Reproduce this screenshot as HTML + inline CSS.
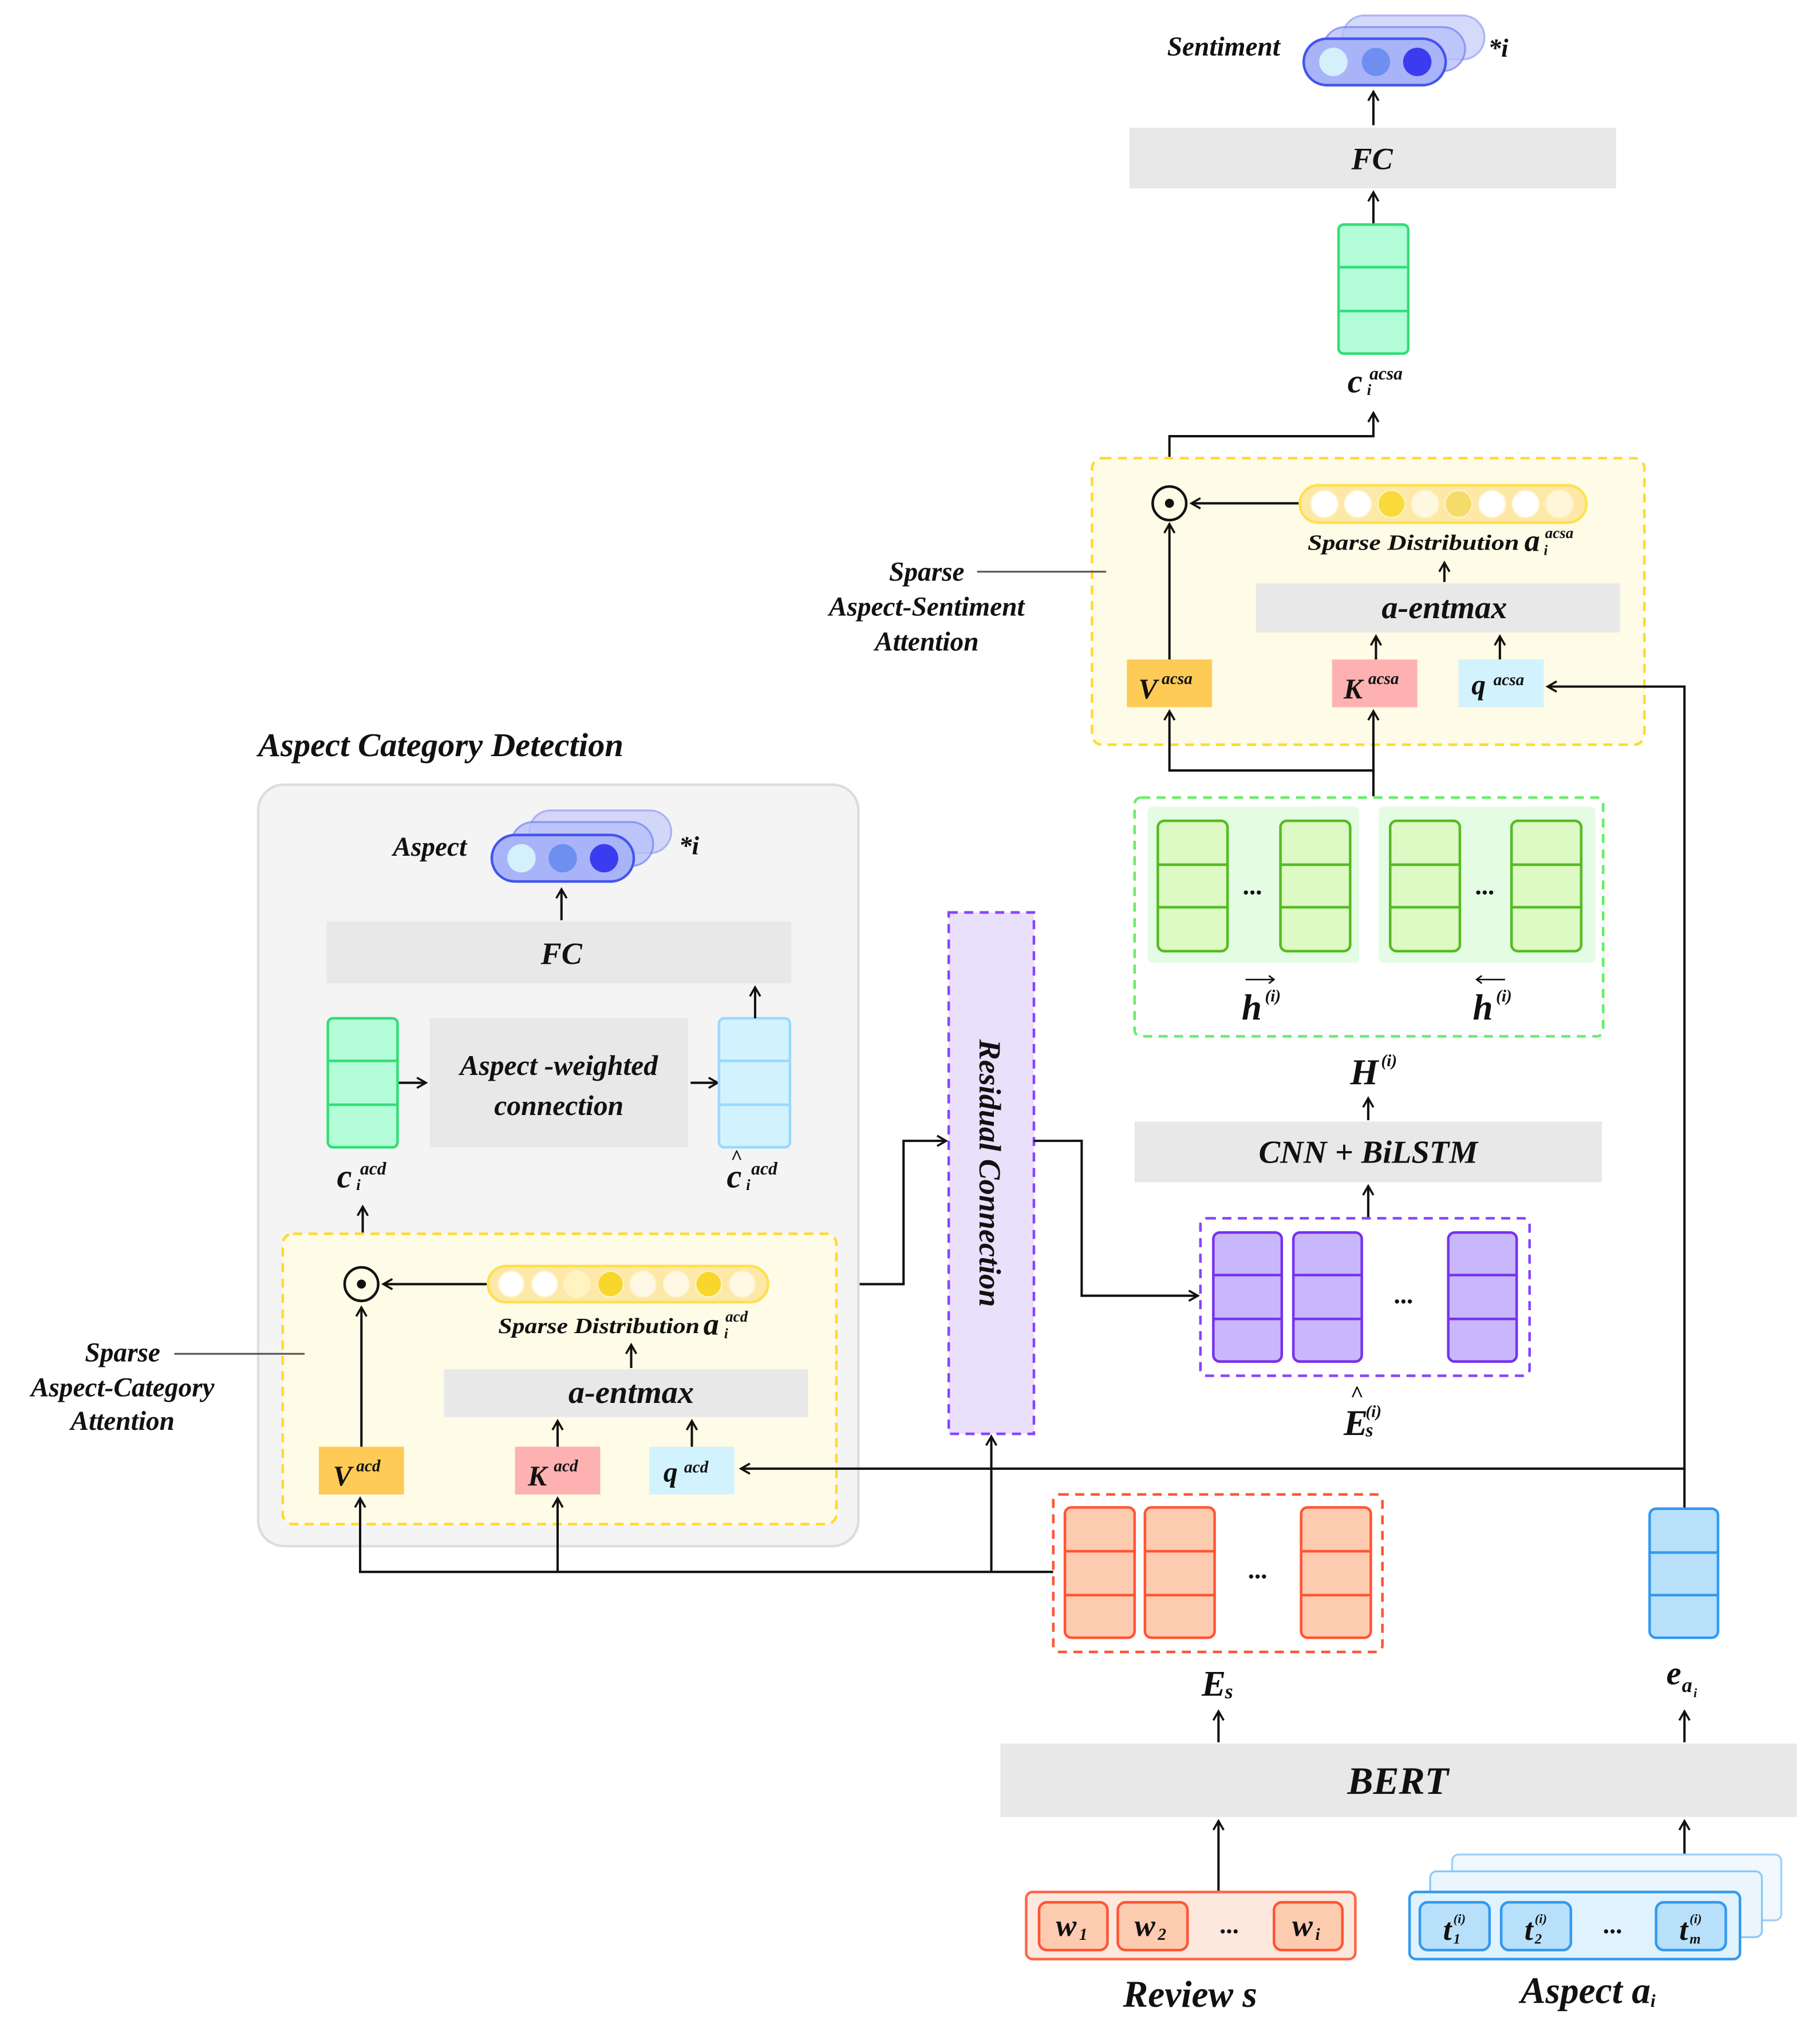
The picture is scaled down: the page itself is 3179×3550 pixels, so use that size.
<!DOCTYPE html>
<html><head><meta charset="utf-8"><style>
html,body{margin:0;padding:0;background:#fff}
svg{display:block}
text{font-family:"Liberation Serif",serif;font-style:italic;font-weight:bold;fill:#111}
</style></head><body>
<svg width="3179" height="3550" viewBox="0 0 1410 1574.5" preserveAspectRatio="none" xmlns="http://www.w3.org/2000/svg">
<defs>
<marker id="ar" markerWidth="10" markerHeight="10" refX="8" refY="5" orient="auto" markerUnits="userSpaceOnUse"><path d="M1,1 L8,5 L1,9" fill="none" stroke="#111" stroke-width="1.6"/></marker>
</defs>

<!-- ===== ACSA (top right) ===== -->
<text x="948" y="43" font-size="21" text-anchor="middle">Sentiment</text>
<rect x="1040" y="12" width="110" height="34" rx="17" fill="#c4cbfa" stroke="#8b97f3" stroke-width="1.5" opacity="0.7"/>
<rect x="1025" y="21" width="110" height="34" rx="17" fill="#b8c0fa" stroke="#7a88f2" stroke-width="1.5" opacity="0.8"/>
<rect x="1010" y="30" width="110" height="36" rx="18" fill="#a9b4f8" stroke="#4455ee" stroke-width="2"/>
<circle cx="1033" cy="48" r="11" fill="#d4f0fa"/><circle cx="1066" cy="48" r="11" fill="#6f8ff0"/><circle cx="1098" cy="48" r="11" fill="#3b3bf0"/>
<text x="1153" y="44" font-size="20">*i</text>
<line x1="1064" y1="97" x2="1064" y2="71" stroke="#111" stroke-width="1.8" marker-end="url(#ar)"/>
<rect x="875" y="99" width="377" height="47" fill="#e8e8e8"/>
<text x="1063" y="131" font-size="24" text-anchor="middle">FC</text>
<line x1="1064" y1="174" x2="1064" y2="149" stroke="#111" stroke-width="1.8" marker-end="url(#ar)"/>
<rect x="1037" y="174" width="54" height="100" rx="4" fill="#b3fdd8" stroke="#33dd77" stroke-width="2"/>
<line x1="1037" y1="207" x2="1091" y2="207" stroke="#33dd77" stroke-width="2"/><line x1="1037" y1="241" x2="1091" y2="241" stroke="#33dd77" stroke-width="2"/>
<text x="1044" y="304" font-size="26">c</text><text x="1061" y="294" font-size="14">acsa</text><text x="1059" y="306" font-size="12">i</text>
<polyline points="906,378 906,338 1064,338 1064,320" fill="none" stroke="#111" stroke-width="1.8" marker-end="url(#ar)"/>

<rect x="846" y="355" width="428" height="222" rx="8" fill="#fefbe6" stroke="#ffd933" stroke-width="2" stroke-dasharray="7,5"/>
<line x1="757" y1="443" x2="857" y2="443" stroke="#555" stroke-width="1.4"/>
<text x="718" y="450" font-size="21" text-anchor="middle">Sparse</text>
<text x="718" y="477" font-size="21" text-anchor="middle">Aspect-Sentiment</text>
<text x="718" y="504" font-size="21" text-anchor="middle">Attention</text>
<circle cx="906" cy="390" r="13" fill="none" stroke="#111" stroke-width="2"/><circle cx="906" cy="390" r="3.5" fill="#111"/>
<line x1="1007" y1="390" x2="923" y2="390" stroke="#111" stroke-width="1.8" marker-end="url(#ar)"/>
<rect x="1007" y="376" width="222" height="29" rx="14.5" fill="#fde8a8" stroke="#ffe04d" stroke-width="2"/>
<g stroke="#fff3c8" stroke-width="1">
<circle cx="1026" cy="390.5" r="10.5" fill="#fff"/><circle cx="1052" cy="390.5" r="10.5" fill="#fff"/><circle cx="1078" cy="390.5" r="10.5" fill="#fad93a"/><circle cx="1104" cy="390.5" r="10.5" fill="#fff8e0"/><circle cx="1130" cy="390.5" r="10.5" fill="#f5dc6a"/><circle cx="1156" cy="390.5" r="10.5" fill="#fff"/><circle cx="1182" cy="390.5" r="10.5" fill="#fff"/><circle cx="1208" cy="390.5" r="10.5" fill="#fff5d8"/>
</g>
<text x="1013" y="426" font-size="17" textLength="164" lengthAdjust="spacingAndGlyphs">Sparse Distribution</text><text x="1181" y="427" font-size="24">a</text><text x="1197" y="417" font-size="12">acsa</text><text x="1196" y="430" font-size="11">i</text>
<line x1="1119" y1="451" x2="1119" y2="436" stroke="#111" stroke-width="1.8" marker-end="url(#ar)"/>
<rect x="973" y="452" width="282" height="38" fill="#e8e8e8"/>
<text x="1119" y="479" font-size="25" text-anchor="middle">a-entmax</text>
<line x1="1066" y1="511" x2="1066" y2="493" stroke="#111" stroke-width="1.8" marker-end="url(#ar)"/>
<line x1="1162" y1="511" x2="1162" y2="493" stroke="#111" stroke-width="1.8" marker-end="url(#ar)"/>
<rect x="873" y="511" width="66" height="37" fill="#fecb56"/><text x="882" y="541" font-size="22">V</text><text x="900" y="530" font-size="13">acsa</text>
<rect x="1032" y="511" width="66" height="37" fill="#feb1b1"/><text x="1041" y="541" font-size="22">K</text><text x="1060" y="530" font-size="13">acsa</text>
<rect x="1130" y="511" width="66" height="37" fill="#d2f2fe"/><text x="1140" y="538" font-size="22">q</text><text x="1157" y="531" font-size="13">acsa</text>
<line x1="906" y1="511" x2="906" y2="406" stroke="#111" stroke-width="1.8" marker-end="url(#ar)"/>
<polyline points="1064,617 1064,597 906,597 906,551" fill="none" stroke="#111" stroke-width="1.8" marker-end="url(#ar)"/>
<line x1="1064" y1="600" x2="1064" y2="551" stroke="#111" stroke-width="1.8" marker-end="url(#ar)"/>
<polyline points="1305,1169 1305,532 1199,532" fill="none" stroke="#111" stroke-width="1.8" marker-end="url(#ar)"/>

<!-- BiLSTM -->
<rect x="879" y="618" width="363" height="185" rx="5" fill="#fff" stroke="#66ee66" stroke-width="2" stroke-dasharray="7,5"/>
<rect x="889" y="625" width="164" height="121" rx="4" fill="#e4fce4"/>
<rect x="1068" y="625" width="168" height="121" rx="4" fill="#e4fce4"/>
<g fill="#ddf9c4" stroke="#55bb22" stroke-width="2">
<rect x="897" y="636" width="54" height="101" rx="5"/><rect x="992" y="636" width="54" height="101" rx="5"/><rect x="1077" y="636" width="54" height="101" rx="5"/><rect x="1171" y="636" width="54" height="101" rx="5"/>
<path d="M897,670h54M897,703h54M992,670h54M992,703h54M1077,670h54M1077,703h54M1171,670h54M1171,703h54" fill="none"/>
</g>
<text x="971" y="693" font-size="20" text-anchor="middle">...</text><text x="1151" y="693" font-size="20" text-anchor="middle">...</text>
<text x="962" y="790" font-size="28">h</text><text x="980" y="776" font-size="13">(i)</text>
<path d="M965,759h22M983,756l4,3l-4,3" fill="none" stroke="#111" stroke-width="1.2"/>
<text x="1141" y="790" font-size="28">h</text><text x="1159" y="776" font-size="13">(i)</text>
<path d="M1144,759h22M1148,756l-4,3l4,3" fill="none" stroke="#111" stroke-width="1.2"/>
<text x="1046" y="840" font-size="28">H</text><text x="1070" y="826" font-size="13">(i)</text>
<line x1="1060" y1="868" x2="1060" y2="851" stroke="#111" stroke-width="1.8" marker-end="url(#ar)"/>
<rect x="879" y="869" width="362" height="47" fill="#e8e8e8"/>
<text x="1060" y="901" font-size="25" text-anchor="middle">CNN + BiLSTM</text>
<line x1="1060" y1="943" x2="1060" y2="919" stroke="#111" stroke-width="1.8" marker-end="url(#ar)"/>
<rect x="930" y="944" width="255" height="122" rx="5" fill="#fff" stroke="#8844ff" stroke-width="2" stroke-dasharray="7,5"/>
<g fill="#c8b8fb" stroke="#7733ee" stroke-width="2">
<rect x="940" y="955" width="53" height="100" rx="5"/><rect x="1002" y="955" width="53" height="100" rx="5"/><rect x="1122" y="955" width="53" height="100" rx="5"/>
<path d="M940,988h53M940,1022h53M1002,988h53M1002,1022h53M1122,988h53M1122,1022h53" fill="none"/>
</g>
<text x="1088" y="1010" font-size="20" text-anchor="middle">...</text>
<text x="1041" y="1112" font-size="28">E</text><text x="1046" y="1086" font-size="18">^</text><text x="1058" y="1098" font-size="13">(i)</text><text x="1058" y="1113" font-size="15">s</text>

<!-- Residual -->
<rect x="735" y="707" width="66" height="404" fill="#e9e0fc" stroke="#8844ff" stroke-width="2" stroke-dasharray="7,5"/>
<text transform="translate(759,909) rotate(90)" font-size="24" text-anchor="middle">Residual Connection</text>
<polyline points="801,884 838,884 838,1004 928,1004" fill="none" stroke="#111" stroke-width="1.8" marker-end="url(#ar)"/>
<polyline points="595,995 700,995 700,884 733,884" fill="none" stroke="#111" stroke-width="1.8" marker-end="url(#ar)"/>

<!-- ===== ACD ===== -->
<text x="200" y="586" font-size="26">Aspect Category Detection</text>
<rect x="200" y="608" width="465" height="590" rx="20" fill="#f4f4f4" stroke="#dddddd" stroke-width="2"/>
<text x="333" y="663" font-size="21" text-anchor="middle">Aspect</text>
<rect x="410" y="628" width="110" height="33" rx="16.5" fill="#c4cbfa" stroke="#8b97f3" stroke-width="1.5" opacity="0.7"/>
<rect x="396" y="637" width="110" height="34" rx="17" fill="#b8c0fa" stroke="#7a88f2" stroke-width="1.5" opacity="0.8"/>
<rect x="381" y="647" width="110" height="36" rx="18" fill="#a9b4f8" stroke="#4455ee" stroke-width="2"/>
<circle cx="404" cy="665" r="11" fill="#d4f0fa"/><circle cx="436" cy="665" r="11" fill="#6f8ff0"/><circle cx="468" cy="665" r="11" fill="#3b3bf0"/>
<text x="526" y="662" font-size="20">*i</text>
<line x1="435" y1="713" x2="435" y2="689" stroke="#111" stroke-width="1.8" marker-end="url(#ar)"/>
<rect x="253" y="714" width="360" height="48" fill="#e8e8e8"/>
<text x="435" y="747" font-size="24" text-anchor="middle">FC</text>
<rect x="254" y="789" width="54" height="100" rx="4" fill="#b3fdd8" stroke="#33dd77" stroke-width="2"/>
<line x1="254" y1="822" x2="308" y2="822" stroke="#33dd77" stroke-width="2"/><line x1="254" y1="856" x2="308" y2="856" stroke="#33dd77" stroke-width="2"/>
<line x1="309" y1="839" x2="330" y2="839" stroke="#111" stroke-width="1.8" marker-end="url(#ar)"/>
<rect x="333" y="789" width="200" height="100" fill="#e8e8e8"/>
<text x="433" y="833" font-size="22" text-anchor="middle">Aspect -weighted</text>
<text x="433" y="864" font-size="22" text-anchor="middle">connection</text>
<line x1="535" y1="839" x2="556" y2="839" stroke="#111" stroke-width="1.8" marker-end="url(#ar)"/>
<rect x="557" y="789" width="55" height="100" rx="4" fill="#d2f2fe" stroke="#99d9fd" stroke-width="2"/>
<line x1="557" y1="822" x2="612" y2="822" stroke="#99d9fd" stroke-width="2"/><line x1="557" y1="856" x2="612" y2="856" stroke="#99d9fd" stroke-width="2"/>
<line x1="585" y1="789" x2="585" y2="765" stroke="#111" stroke-width="1.8" marker-end="url(#ar)"/>
<text x="261" y="920" font-size="26">c</text><text x="279" y="910" font-size="14">acd</text><text x="276" y="922" font-size="12">i</text>
<text x="563" y="920" font-size="26">c</text><text x="566" y="902" font-size="16">^</text><text x="582" y="910" font-size="14">acd</text><text x="578" y="922" font-size="12">i</text>
<line x1="281" y1="980" x2="281" y2="935" stroke="#111" stroke-width="1.8" marker-end="url(#ar)"/>

<rect x="219" y="956" width="429" height="225" rx="8" fill="#fefbe6" stroke="#ffd933" stroke-width="2" stroke-dasharray="7,5"/>
<line x1="135" y1="1049" x2="236" y2="1049" stroke="#555" stroke-width="1.4"/>
<text x="95" y="1055" font-size="21" text-anchor="middle">Sparse</text>
<text x="95" y="1082" font-size="21" text-anchor="middle">Aspect-Category</text>
<text x="95" y="1108" font-size="21" text-anchor="middle">Attention</text>
<circle cx="280" cy="995" r="13" fill="none" stroke="#111" stroke-width="2"/><circle cx="280" cy="995" r="3.5" fill="#111"/>
<line x1="378" y1="995" x2="297" y2="995" stroke="#111" stroke-width="1.8" marker-end="url(#ar)"/>
<rect x="378" y="981" width="217" height="28" rx="14" fill="#fde8a8" stroke="#ffe04d" stroke-width="2"/>
<g stroke="#fff3c8" stroke-width="1">
<circle cx="396" cy="995" r="10" fill="#fff"/><circle cx="422" cy="995" r="10" fill="#fff"/><circle cx="447" cy="995" r="10" fill="#fff3c0"/><circle cx="473" cy="995" r="10" fill="#f9d62b"/><circle cx="498" cy="995" r="10" fill="#fff8e5"/><circle cx="524" cy="995" r="10" fill="#fff8e5"/><circle cx="549" cy="995" r="10" fill="#f9d62b"/><circle cx="575" cy="995" r="10" fill="#fff8e5"/>
</g>
<text x="386" y="1033" font-size="17" textLength="156" lengthAdjust="spacingAndGlyphs">Sparse Distribution</text><text x="545" y="1034" font-size="24">a</text><text x="562" y="1024" font-size="12">acd</text><text x="561" y="1037" font-size="11">i</text>
<line x1="489" y1="1060" x2="489" y2="1042" stroke="#111" stroke-width="1.8" marker-end="url(#ar)"/>
<rect x="344" y="1061" width="282" height="37" fill="#e8e8e8"/>
<text x="489" y="1087" font-size="25" text-anchor="middle">a-entmax</text>
<line x1="432" y1="1121" x2="432" y2="1101" stroke="#111" stroke-width="1.8" marker-end="url(#ar)"/>
<line x1="536" y1="1121" x2="536" y2="1101" stroke="#111" stroke-width="1.8" marker-end="url(#ar)"/>
<rect x="247" y="1121" width="66" height="37" fill="#fecb56"/><text x="258" y="1151" font-size="22">V</text><text x="276" y="1140" font-size="13">acd</text>
<rect x="399" y="1121" width="66" height="37" fill="#feb1b1"/><text x="409" y="1151" font-size="22">K</text><text x="429" y="1140" font-size="13">acd</text>
<rect x="503" y="1121" width="66" height="37" fill="#d2f2fe"/><text x="514" y="1148" font-size="22">q</text><text x="530" y="1141" font-size="13">acd</text>
<line x1="280" y1="1121" x2="280" y2="1013" stroke="#111" stroke-width="1.8" marker-end="url(#ar)"/>

<!-- connectors bottom -->
<polyline points="816,1218 279,1218 279,1161" fill="none" stroke="#111" stroke-width="1.8" marker-end="url(#ar)"/>
<line x1="432" y1="1218" x2="432" y2="1161" stroke="#111" stroke-width="1.8" marker-end="url(#ar)"/>
<line x1="768" y1="1218" x2="768" y2="1113" stroke="#111" stroke-width="1.8" marker-end="url(#ar)"/>
<polyline points="1305,1138 574,1138" fill="none" stroke="#111" stroke-width="1.8" marker-end="url(#ar)"/>

<!-- Es -->
<rect x="816" y="1158" width="255" height="122" rx="5" fill="#fff" stroke="#ff5533" stroke-width="2" stroke-dasharray="7,5"/>
<g fill="#fdcbb0" stroke="#ff5533" stroke-width="2">
<rect x="825" y="1168" width="54" height="101" rx="5"/><rect x="887" y="1168" width="54" height="101" rx="5"/><rect x="1008" y="1168" width="54" height="101" rx="5"/>
<path d="M825,1202h54M825,1236h54M887,1202h54M887,1236h54M1008,1202h54M1008,1236h54" fill="none"/>
</g>
<text x="975" y="1223" font-size="20" text-anchor="middle">...</text>
<rect x="1278" y="1169" width="53" height="100" rx="5" fill="#b8e0fb" stroke="#3399ee" stroke-width="2"/>
<path d="M1278,1203h53M1278,1236h53" stroke="#3399ee" stroke-width="2"/>
<text x="931" y="1314" font-size="28">E</text><text x="949" y="1316" font-size="16">s</text>
<text x="1291" y="1305" font-size="26">e</text><text x="1303" y="1311" font-size="16">a</text><text x="1312" y="1315" font-size="10">i</text>
<line x1="944" y1="1350" x2="944" y2="1326" stroke="#111" stroke-width="1.8" marker-end="url(#ar)"/>
<line x1="1305" y1="1350" x2="1305" y2="1326" stroke="#111" stroke-width="1.8" marker-end="url(#ar)"/>
<rect x="775" y="1351" width="617" height="57" fill="#e8e8e8"/>
<text x="1083" y="1390" font-size="30" text-anchor="middle">BERT</text>
<line x1="944" y1="1465" x2="944" y2="1411" stroke="#111" stroke-width="1.8" marker-end="url(#ar)"/>
<line x1="1305" y1="1437" x2="1305" y2="1411" stroke="#111" stroke-width="1.8" marker-end="url(#ar)"/>

<!-- Review -->
<rect x="795" y="1466" width="255" height="52" rx="5" fill="#fde8de" stroke="#ff6644" stroke-width="2"/>
<g fill="#fdcbb0" stroke="#ff5533" stroke-width="2">
<rect x="805" y="1474" width="53" height="37" rx="6"/><rect x="866" y="1474" width="54" height="37" rx="6"/><rect x="987" y="1474" width="53" height="37" rx="6"/>
</g>
<text x="818" y="1500" font-size="24" font-weight="normal">w</text><text x="836" y="1503" font-size="13" font-weight="normal">1</text>
<text x="879" y="1500" font-size="24" font-weight="normal">w</text><text x="897" y="1503" font-size="13" font-weight="normal">2</text>
<text x="953" y="1498" font-size="20" text-anchor="middle">...</text>
<text x="1001" y="1500" font-size="24" font-weight="normal">w</text><text x="1019" y="1503" font-size="13" font-weight="normal">i</text>
<text x="922" y="1555" font-size="29" text-anchor="middle">Review s</text>

<!-- Aspect tokens -->
<rect x="1125" y="1437" width="255" height="51" rx="5" fill="#f0f8fe" stroke="#9fd0fa" stroke-width="1.5"/>
<rect x="1108" y="1450" width="257" height="51" rx="5" fill="#eaf5fe" stroke="#8cc8f8" stroke-width="1.5"/>
<rect x="1092" y="1466" width="256" height="52" rx="5" fill="#e0f2fe" stroke="#3399ee" stroke-width="2"/>
<g fill="#b8e0fb" stroke="#3399ee" stroke-width="2">
<rect x="1100" y="1474" width="54" height="37" rx="6"/><rect x="1163" y="1474" width="54" height="37" rx="6"/><rect x="1283" y="1474" width="54" height="37" rx="6"/>
</g>
<text x="1118" y="1503" font-size="24" font-weight="normal">t</text><text x="1126" y="1490" font-size="10" font-weight="normal">(i)</text><text x="1126" y="1506" font-size="11" font-weight="normal">1</text>
<text x="1181" y="1503" font-size="24" font-weight="normal">t</text><text x="1189" y="1490" font-size="10" font-weight="normal">(i)</text><text x="1189" y="1506" font-size="11" font-weight="normal">2</text>
<text x="1250" y="1498" font-size="20" text-anchor="middle">...</text>
<text x="1301" y="1503" font-size="24" font-weight="normal">t</text><text x="1309" y="1490" font-size="10" font-weight="normal">(i)</text><text x="1309" y="1506" font-size="11" font-weight="normal">m</text>
<text x="1178" y="1552" font-size="29">Aspect a<tspan font-size="14" dy="3">i</tspan></text>
</svg>
</body></html>
